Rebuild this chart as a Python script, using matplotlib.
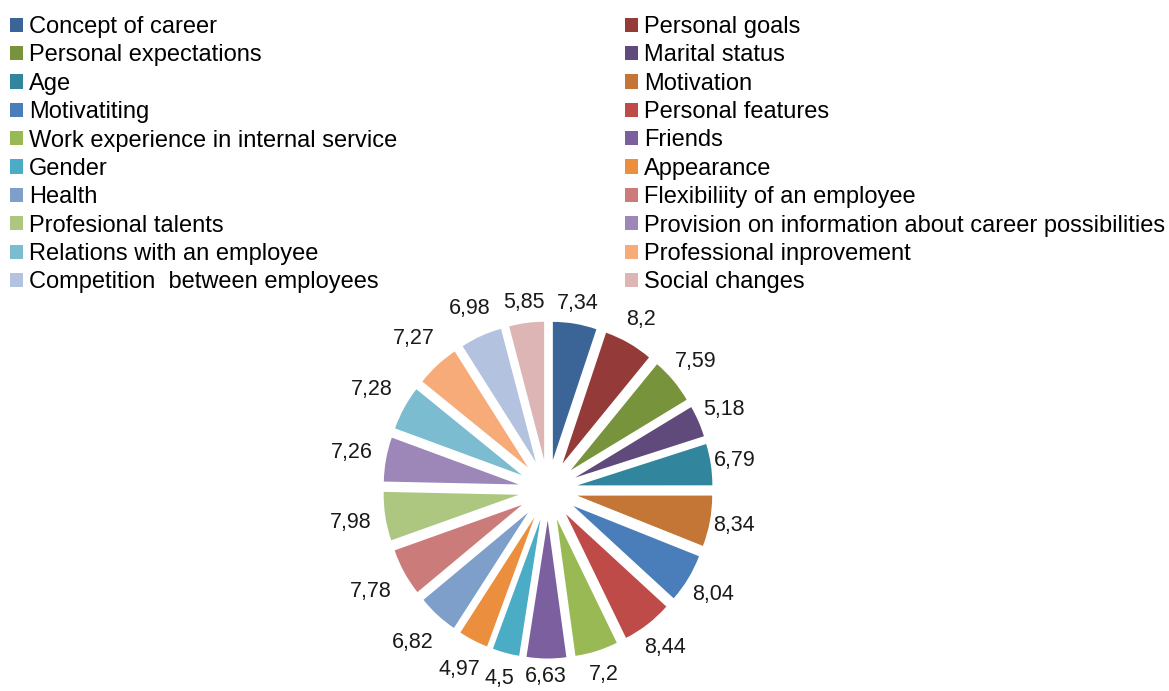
import numpy as np
import matplotlib
matplotlib.use('Agg')
import matplotlib.pyplot as plt

factors = ['Concept of career', 'Personal goals', 'Personal expectations', 'Marital status',
           'Age', 'Motivation', 'Motivatiting', 'Personal features',
           'Work experience in internal service', 'Friends', 'Gender', 'Appearance',
           'Health', 'Flexibiliity of an employee', 'Profesional talents',
           'Provision on information about career possibilities',
           'Relations with an employee', 'Professional inprovement',
           'Competition  between employees', 'Social changes']
scores = [7.34, 8.2, 7.59, 5.18, 6.79, 8.34, 8.04, 8.44, 7.2, 6.63,
          4.5, 4.97, 6.82, 7.78, 7.98, 7.26, 7.28, 7.27, 6.98, 5.85]
colors = ['#3A6596', '#943A38', '#77933C', '#604A7B', '#31859C', '#C37635',
          '#4A7EBB', '#BE4B48', '#98B954', '#7B5F9F', '#4BACC6', '#EB8F3F',
          '#7F9FCB', '#CB7C7A', '#ADC781', '#9C87B8', '#7BBCD0', '#F7AB79',
          '#B3C2DE', '#DDB5B5']

plt.rcParams['font.family'] = ['Liberation Sans', 'DejaVu Sans']

fig = plt.figure(figsize=(11.69, 6.91), dpi=100)
W, H = 1169, 691
cx, cy = 548, 490
half_x = 216  # pixels for 1.6 units
half_y = 221
ax = fig.add_axes([(cx - half_x) / W, (H - cy - half_y) / H, 2 * half_x / W, 2 * half_y / H])

explode = [0.22] * len(scores)
wedges, _ = ax.pie(scores, colors=colors, explode=explode, startangle=90,
                   counterclock=False, radius=1.0)
ax.set_xlim(-1.6, 1.6)
ax.set_ylim(-1.6, 1.6)
ax.set_aspect('auto')
ax.axis('off')

# data labels just outside each slice
for w, v in zip(wedges, scores):
    ang = np.deg2rad((w.theta1 + w.theta2) / 2)
    r = (1.38 + 0.08 * abs(np.sin(2 * ang)) + 0.08 * max(0.0, -np.cos(ang))
         - 0.04 * max(0.0, np.sin(ang)) - 0.03 * max(0.0, -np.sin(ang)))
    ax.text(r * np.cos(ang), r * np.sin(ang), f'{v:g}'.replace('.', ','),
            ha='center', va='center', fontsize=15.5, color='#1a1a1a')

left = [wedges[i] for i in range(0, 20, 2)]
right = [wedges[i] for i in range(1, 20, 2)]
kw = dict(frameon=False, fontsize=17, handlelength=0.55, handleheight=0.55,
          handletextpad=0.25, labelspacing=0.27, borderaxespad=0, borderpad=0)
leg1 = fig.legend(left, factors[0::2], loc='upper left',
                  bbox_to_anchor=(10 / W, 1 - 16 / H), **kw)
leg2 = fig.legend(right, factors[1::2], loc='upper left',
                  bbox_to_anchor=(625 / W, 1 - 16 / H), **kw)

fig.savefig('out.png', dpi=100)
